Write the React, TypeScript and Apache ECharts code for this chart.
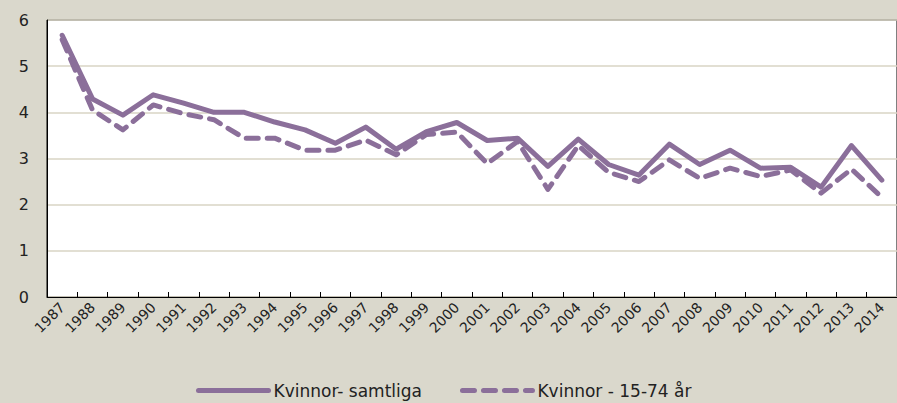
import React, { useEffect, useRef } from "react";
import * as echarts from "echarts";

const years = [
  "1987", "1988", "1989", "1990", "1991", "1992", "1993", "1994", "1995", "1996",
  "1997", "1998", "1999", "2000", "2001", "2002", "2003", "2004", "2005", "2006",
  "2007", "2008", "2009", "2010", "2011", "2012", "2013", "2014",
];

const samtliga = [
  5.67, 4.29, 3.94, 4.38, 4.2, 4.0, 4.0, 3.79, 3.62, 3.33,
  3.68, 3.2, 3.58, 3.78, 3.39, 3.44, 2.83, 3.42, 2.87, 2.64,
  3.31, 2.87, 3.18, 2.79, 2.81, 2.38, 3.28, 2.53,
];

const aged1574 = [
  5.57, 4.05, 3.62, 4.16, 3.97, 3.84, 3.44, 3.44, 3.18, 3.18,
  3.4, 3.08, 3.52, 3.57, 2.89, 3.37, 2.33, 3.28, 2.7, 2.5,
  2.97, 2.57, 2.79, 2.61, 2.75, 2.25, 2.77, 2.16,
];

const seriesNames = ["Kvinnor- samtliga", "Kvinnor - 15-74 år"];

const FONT = "DejaVu Sans";
const PURPLE = "#8b6f9a";

export default function App() {
  const ref = useRef<HTMLDivElement>(null);
  useEffect(() => {
    if (!ref.current) return;
    const chart = echarts.init(ref.current, undefined, { renderer: "svg" });
    chart.setOption({
      animation: false,
      backgroundColor: "#dad8cc",
      textStyle: { fontFamily: FONT },
      grid: {
        left: 47,
        right: -8,
        top: 20,
        bottom: 106,
        show: true,
        backgroundColor: "#ffffff",
        borderColor: "#000000",
        borderWidth: 1,
      },
      legend: {
        left: 196,
        top: 382,
        padding: 0,
        itemWidth: 70,
        itemHeight: 14,
        itemGap: 38,
        itemStyle: { opacity: 0 },
        lineStyle: { width: 5 },
        textStyle: { fontFamily: FONT, fontSize: 17, color: "#222" },
        data: seriesNames,
      },
      xAxis: {
        type: "category",
        data: years,
        boundaryGap: true,
        axisLine: { lineStyle: { color: "#000", width: 1 } },
        axisTick: { show: true, length: 5, inside: true, lineStyle: { color: "#000" } },
        axisLabel: {
          rotate: 45,
          interval: 0,
          fontFamily: FONT,
          fontSize: 14,
          color: "#222",
          margin: 8,
        },
        splitLine: { show: false },
      },
      yAxis: {
        type: "value",
        min: 0,
        max: 6,
        interval: 1,
        axisLine: { show: true, lineStyle: { color: "#000" } },
        axisTick: { show: false },
        axisLabel: { fontFamily: FONT, fontSize: 16, color: "#222", margin: 18 },
        splitLine: { show: true, lineStyle: { color: "#d8d5c5", width: 1.5 } },
      },
      series: [
        {
          name: seriesNames[0],
          type: "line",
          data: samtliga,
          symbol: "none",
          lineStyle: { color: PURPLE, width: 5, cap: "round", join: "round" },
          itemStyle: { color: PURPLE },
          z: 3,
        },
        {
          name: seriesNames[1],
          type: "line",
          data: aged1574,
          symbol: "none",
          lineStyle: { color: PURPLE, width: 5, type: [12, 9], cap: "round", join: "round" },
          itemStyle: { color: PURPLE },
          z: 2,
        },
      ],
    });
    return () => chart.dispose();
  }, []);
  return <div ref={ref} style={{ width: 897, height: 403, position: "absolute", left: 0, top: 0 }} />;
}
